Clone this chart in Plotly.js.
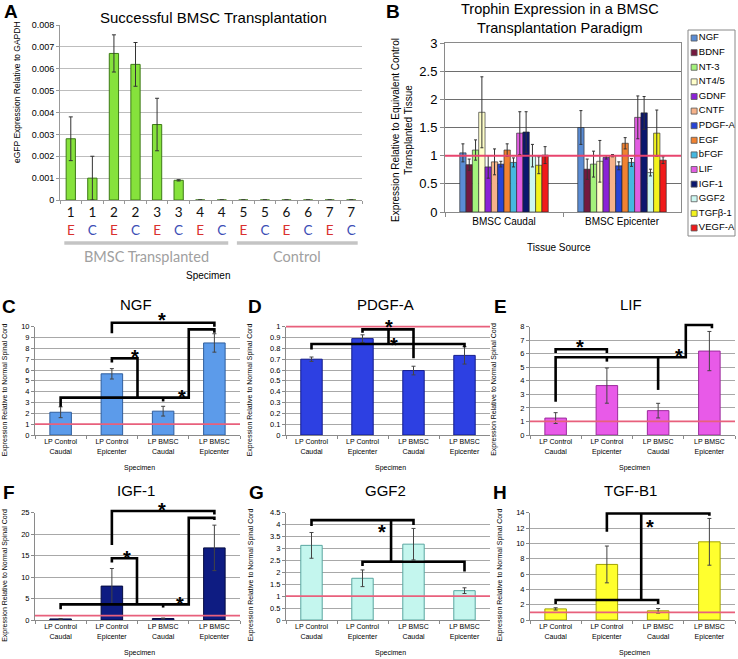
<!DOCTYPE html>
<html><head><meta charset="utf-8">
<script src="https://cdn.plot.ly/plotly-3.0.1.min.js"></script>
<style>html,body{margin:0;padding:0;background:#fff}#chart{width:738px;height:659px}</style>
</head><body><div id="chart"></div>
<script>
// ---------- Panel A data ----------
const specimenA = ['1','1','2','2','3','3','4','4','5','5','6','6','7','7'];
const tissueA   = ['E','C','E','C','E','C','E','C','E','C','E','C','E','C'];
const egfp      = [0.0028,0.0010,0.0067,0.0062,0.00345,0.0009,0,0,0,0,0,0,0,0];
const egfpErr   = [0.0010,0.0010,0.00085,0.0010,0.0012,0.00003,0,0,0,0,0,0,0,0];
const groupsA   = ['BMSC Transplanted','Control'];
const groupFirst = [0, 8];
const groupLast  = [7, 13];

// ---------- Panel B data ----------
const trophins  = ['NGF','BDNF','NT-3','NT4/5','GDNF','CNTF','PDGF-A','EGF','bFGF','LIF','IGF-1','GGF2','TGFβ-1','VEGF-A'];
const tissueB   = ['BMSC Caudal','BMSC Epicenter'];
const caudal       = [1.05,0.84,1.10,1.77,0.80,0.89,0.85,1.10,0.88,1.40,1.42,1.00,0.83,1.01];
const caudalErr    = [0.16,0.10,0.18,0.63,0.20,0.23,0.05,0.11,0.08,0.38,0.36,0.20,0.15,0.15];
const epicenter    = [1.50,0.76,0.85,0.90,0.97,1.00,0.82,1.22,0.88,1.68,1.76,0.70,1.40,0.92];
const epicenterErr = [0.30,0.18,0.23,0.37,0.03,0.02,0.07,0.10,0.07,0.38,0.29,0.06,0.41,0.06];

// ---------- Panels C-H data ----------
const specimens = ['LP Control<br>Caudal','LP Control<br>Epicenter','LP BMSC<br>Caudal','LP BMSC<br>Epicenter'];
const ngf   = [2.1,5.65,2.2,8.5];     const ngfErr   = [0.5,0.48,0.45,0.85];
const pdgfa = [0.70,0.89,0.595,0.735]; const pdgfaErr = [0.02,0.035,0.04,0.08];
const lif   = [1.25,3.65,1.8,6.2];    const lifErr   = [0.4,1.3,0.54,1.45];
const igf1  = [0.25,7.9,0.35,16.8];   const igf1Err  = [0.05,4.1,0.1,5.3];
const ggf2  = [3.13,1.75,3.18,1.23];  const ggf2Err  = [0.54,0.35,0.66,0.12];
const tgfb1 = [1.45,7.25,1.2,10.2];   const tgfb1Err = [0.15,2.4,0.3,3.05];
const reference = 1; // normal spinal cord / equivalent control level

// significance brackets: polylines of [category index, value]; stars [category index, value]
const bracketsC = [[[1,9.4],[1,10.37],[3,10.37],[3,10.0]], [[1,6.7],[1,7.08],[1.5,7.08],[1.5,3.45]], [[0,2.6],[0,3.45],[2.5,3.45],[2.5,9.75],[3,9.75],[3,9.45]], [[2,3.1],[2,3.45]]];
const starsC = [[1.98,11.1],[1.45,7.7],[2.37,3.94]];
const bracketsD = [[[1,0.945],[1,0.975],[2,0.975],[2,0.708]], [[1.51,0.975],[1.51,0.84]], [[0,0.79],[0,0.84],[3,0.84],[3,0.81]]];
const starsD = [[1.52,1.046],[1.62,0.877]];
const bracketsE = [[[0,6.05],[0,6.33],[1,6.33],[1,6.05]], [[0,2.46],[0,5.74],[2.54,5.74],[2.54,8.13],[3.05,8.13],[3.05,7.88]], [[1,5.74],[1,5.42]], [[2,5.74],[2,3.33]]];
const starsE = [[0.47,6.9],[2.4,6.2]];
const bracketsF = [[[1,17.5],[1,25.4],[3,25.4],[3,24.6]], [[1,13.4],[1,14.4],[1.49,14.4],[1.49,3.65]], [[0,2.5],[0,3.65],[2.5,3.65],[2.5,23.8],[3,23.8],[3,23.3]], [[2,2.9],[2,3.65]]];
const starsF = [[1.98,26.8],[1.3,15.7],[2.32,5.0]];
const bracketsG = [[[0,3.94],[0,4.19],[2,4.19],[2,3.98]], [[1.56,4.19],[1.56,2.44]], [[1,2.26],[1,2.44],[3,2.44],[3,2.03]]];
const starsG = [[1.39,3.9]];
const bracketsH = [[[1,11.5],[1,13.9],[3,13.9],[3,13.6]], [[1.67,13.9],[1.67,2.6]], [[0,2.1],[0,2.6],[2,2.6],[2,2.1]]];
const starsH = [[1.84,12.8]];

// ---------- helpers ----------
const FONT = 'Liberation Sans, Arial, sans-serif';
const W = 738, H = 659;
const px = x => x / W, py = y => 1 - y / H;
const traces = [];
const shapes = [];
const annotations = [];
function ann(text, x, y, size, extra) {
  annotations.push(Object.assign({text, x: px(x), y: py(y), xref:'paper', yref:'paper', showarrow:false,
    xanchor:'center', yanchor:'middle', font:{family:FONT, size, color:'#000'}}, extra || {}));
}
const layout = {
  width: W, height: H, margin:{l:0,r:0,t:0,b:0}, paper_bgcolor:'#fff', plot_bgcolor:'#fff',
  showlegend:false, barmode:'group', bargap:0.25, bargroupgap:0,
  font:{family:FONT, color:'#000'}, shapes, annotations
};

// ---------- Panel A ----------
const catA = specimenA.map((s,i) => s + '<br><span style="color:' + (tissueA[i]==='E' ? '#D9302E' : '#3B4DB5') + '">' + tissueA[i] + '</span>');
traces.push({type:'bar', x:catA, y:egfp, width:0.43, xaxis:'x', yaxis:'y',
  marker:{color:'#86E23C', line:{color:'#3D7A16', width:1}},
  error_y:{type:'data', array:egfpErr, visible:true, color:'#333', thickness:1, width:2}});
layout.xaxis = {domain:[px(60),px(362)], anchor:'y', type:'category', showline:true, linecolor:'#999',
  ticks:'outside', tickson:'boundaries', ticklen:3, tickcolor:'#999', showgrid:false,
  tickfont:{family:'Lato, Open Sans, sans-serif', size:13.5, color:'#111'}};
layout.yaxis = {domain:[py(200),py(25)], anchor:'x', range:[0,0.008], dtick:0.001, tick0:0, showline:true,
  linecolor:'#999', ticks:'outside', ticklen:3, tickcolor:'#999', gridcolor:'#BDBDBD', zeroline:false,
  tickfont:{size:9}};
groupsA.forEach((g,k) => {
  const n = specimenA.length;
  shapes.push({type:'line', xref:'x domain', yref:'paper', x0:(groupFirst[k]-0.3+0.5)/n, x1:(groupLast[k]+0.3+0.5)/n,
    y0:py(243), y1:py(243), line:{color:'#C4C4C4', width:3.5}});
  annotations.push({text:g, xref:'x domain', yref:'paper', x:((groupFirst[k]+groupLast[k])/2+0.5)/n, y:py(256),
    xanchor:'center', yanchor:'middle', showarrow:false,
    font:{family:'Lato, Open Sans, sans-serif', size:14.5, color:'#A0A0A0'}});
});
ann('Successful BMSC Transplantation', 213, 18, 15);
ann('Specimen', 208, 275, 10);
ann('eGFP Expression Relative to GAPDH', 17, 92, 8.5, {textangle:-90});
ann('<b>A</b>', 11, 12, 19);

// ---------- Panel B ----------
const colorsB = ['#5A8CD4','#74193F','#A4F27C','#FFFFCA','#8A22D6','#F6B28A','#2744D6','#F08232','#46B8E0','#E25DE2','#0B176E','#CCF7F1','#F3F31C','#F01A1A'];
trophins.forEach((t,i) => {
  traces.push({type:'bar', name:t, x:tissueB, y:[caudal[i], epicenter[i]], xaxis:'x2', yaxis:'y2',
    marker:{color:colorsB[i], line:{color:'rgba(40,40,40,0.8)', width:0.8}},
    error_y:{type:'data', array:[caudalErr[i], epicenterErr[i]], visible:true, color:'#333', thickness:1, width:1.5}});
});
layout.xaxis2 = {domain:[px(445),px(681)], anchor:'y2', type:'category', showline:true, mirror:true, linecolor:'#8A8A8A',
  ticks:'outside', tickson:'boundaries', ticklen:4, tickcolor:'#8A8A8A', tickfont:{size:10}, showgrid:false};
layout.yaxis2 = {domain:[py(212),py(43)], anchor:'x2', range:[0,3], dtick:0.5, tick0:0, showline:true, mirror:true,
  linecolor:'#8A8A8A', ticks:'outside', ticklen:4, tickcolor:'#8A8A8A', gridcolor:'#6E6E6E', zeroline:false, tickfont:{size:13}};
shapes.push({type:'line', xref:'x2 domain', yref:'y2', x0:0, x1:1, y0:reference, y1:reference, layer:'above', line:{color:'#E8456E', width:2}});
ann('Trophin Expression in a BMSC<br>Transplantation Paradigm', 560, 19, 14.5);
ann('Expression Relative to Equivalent Control<br>Transplanted Tissue', 402, 130, 10, {textangle:-90});
ann('Tissue Source', 559, 247, 10);
ann('<b>B</b>', 393, 12, 19);
// legend drawn as its own small subplot
traces.push({type:'scatter', mode:'markers+text', x:trophins.map(() => 0.13), y:trophins.map((_,i) => i),
  text:trophins, textposition:'middle right', cliponaxis:false, xaxis:'x9', yaxis:'y9', hoverinfo:'skip',
  textfont:{family:FONT, size:9.5, color:'#000'},
  marker:{symbol:'square', size:6, color:colorsB, line:{color:'#555', width:0.8}}});
layout.xaxis9 = {domain:[px(688),px(735)], anchor:'y9', range:[0,1], visible:false, fixedrange:true};
layout.yaxis9 = {domain:[py(236),py(30)], anchor:'x9', range:[13.55,-0.55], visible:false, fixedrange:true};
shapes.push({type:'rect', xref:'paper', yref:'paper', x0:px(688), x1:px(735), y0:py(236), y1:py(30), line:{color:'#888', width:1}});

// ---------- Panels C-H ----------
const panels = [
  {ax:3, letter:'C', title:'NGF',    y:ngf,   e:ngfErr,   ymax:10,  dtick:1,   color:'#5C9BEA', edge:'#2F5E9E', xd:[35,240],  yd:[326.7,435], br:bracketsC, st:starsC, lx:9,   ytx:4.5},
  {ax:4, letter:'D', title:'PDGF-A', y:pdgfa, e:pdgfaErr, ymax:1,   dtick:0.1, color:'#2D40E2', edge:'#141C8C', xd:[286,490], yd:[326.7,435], br:bracketsD, st:starsD, lx:255, ytx:249.5},
  {ax:5, letter:'E', title:'LIF',    y:lif,   e:lifErr,   ymax:8,   dtick:1,   color:'#E85AE8', edge:'#9C2C9C', xd:[530,735], yd:[326.7,435], br:bracketsE, st:starsE, lx:500, ytx:494},
  {ax:6, letter:'F', title:'IGF-1',  y:igf1,  e:igf1Err,  ymax:25,  dtick:5,   color:'#0E1C82', edge:'#050C40', xd:[35,240],  yd:[512.7,620], br:bracketsF, st:starsF, lx:9,   ytx:5.5},
  {ax:7, letter:'G', title:'GGF2',   y:ggf2,  e:ggf2Err,  ymax:4.5, dtick:0.5, color:'#C4F6EE', edge:'#5AA6A0', xd:[286,490], yd:[512.7,620], br:bracketsG, st:starsG, lx:256, ytx:251},
  {ax:8, letter:'H', title:'TGF-B1', y:tgfb1, e:tgfb1Err, ymax:14,  dtick:2,   color:'#FFFF2E', edge:'#A3A300', xd:[530,735], yd:[512.7,620], br:bracketsH, st:starsH, lx:500, ytx:500},
];
panels.forEach(p => {
  const a = p.ax;
  traces.push({type:'bar', x:specimens, y:p.y, width:0.42, xaxis:'x'+a, yaxis:'y'+a,
    marker:{color:p.color, line:{color:p.edge, width:1}},
    error_y:{type:'data', array:p.e, visible:true, color:'#444', thickness:1, width:2}});
  layout['xaxis'+a] = {domain:[px(p.xd[0]),px(p.xd[1])], anchor:'y'+a, type:'category', showline:true, linecolor:'#8A8A8A',
    ticks:'outside', tickson:'boundaries', ticklen:3, tickcolor:'#8A8A8A', showgrid:false, tickfont:{size:7}};
  layout['yaxis'+a] = {domain:[py(p.yd[1]),py(p.yd[0])], anchor:'x'+a, range:[0,p.ymax], dtick:p.dtick, tick0:0,
    showline:true, linecolor:'#8A8A8A', ticks:'outside', ticklen:3, tickcolor:'#8A8A8A', gridcolor:'#A8A8A8',
    zeroline:false, tickfont:{size:7.5}};
  const x0 = px(p.xd[0]), x1 = px(p.xd[1]), y0 = py(p.yd[1]), y1 = py(p.yd[0]);
  const toX = c => x0 + (c + 0.5) / 4 * (x1 - x0);
  const toY = v => y0 + v / p.ymax * (y1 - y0);
  shapes.push({type:'line', xref:'x'+a+' domain', yref:'paper', x0:0, x1:1, y0:toY(reference), y1:toY(reference),
    layer:'above', line:{color:'#E8607C', width:1.8}});
  p.br.forEach(poly => {
    const d = poly.map((pt,k) => (k ? 'L' : 'M') + toX(pt[0]).toFixed(5) + ',' + toY(pt[1]).toFixed(5)).join(' ');
    shapes.push({type:'path', xref:'paper', yref:'paper', path:d, layer:'above', line:{color:'#000', width:2.6}});
  });
  p.st.forEach(s => {
    annotations.push({text:'<b>*</b>', xref:'paper', yref:'paper', x:toX(s[0]), y:toY(s[1]), showarrow:false,
      xanchor:'center', yanchor:'middle', yshift:-5, font:{family:FONT, size:20, color:'#000'}});
  });
  const cx = (p.xd[0] + p.xd[1]) / 2;
  ann(p.title, cx - 2, p.yd[0] - 22, 15);
  ann('<b>' + p.letter + '</b>', p.lx, p.yd[0] - 20, 19);
  ann('Expression Relative to Normal Spinal Cord', p.ytx, (p.yd[0] + p.yd[1]) / 2 + 9, 7, {textangle:-90});
  ann('Specimen', cx + 2, p.yd[1] + 33, 7);
});

Plotly.newPlot('chart', traces, layout, {displayModeBar:false, staticPlot:true});
</script>
</body></html>
